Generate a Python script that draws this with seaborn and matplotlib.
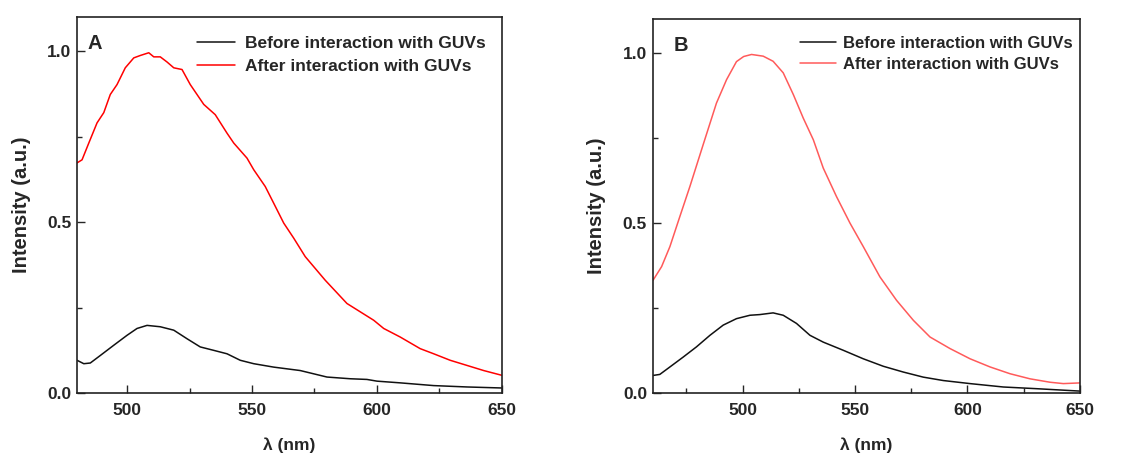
import numpy as np
import pandas as pd
import matplotlib
matplotlib.use("Agg")
import matplotlib.pyplot as plt
from matplotlib.ticker import MultipleLocator, FormatStrFormatter
import seaborn as sns

# ---------------- data ----------------
a_red_x = [480, 482, 484.7, 488, 490.7, 493.3, 496, 499.3, 502.7, 505.3, 508.7, 510.7, 513.3, 516,
           518.7, 522, 525.3, 530.7, 535.3, 540, 542.7, 548, 550.7, 555.3, 558.7, 562.7, 566.7,
           571.3, 579.3, 588, 598.7, 602.7, 609.3, 617.3, 622.7, 629.3, 636, 642.7, 650]
a_red_y = [0.673, 0.682, 0.731, 0.79, 0.82, 0.873, 0.902, 0.951, 0.98, 0.987, 0.995, 0.983, 0.983,
           0.968, 0.951, 0.946, 0.902, 0.844, 0.814, 0.76, 0.731, 0.687, 0.653, 0.604, 0.555, 0.497,
           0.453, 0.399, 0.33, 0.262, 0.213, 0.189, 0.164, 0.13, 0.115, 0.096, 0.081, 0.066, 0.052]
a_blk_x = [480, 482.7, 485.3, 489.3, 494.7, 500, 504, 508, 513.3, 518.7, 524, 529.3, 534.7, 540,
           545.3, 550.7, 558.7, 569.3, 580, 589.3, 596, 600, 609.3, 622.7, 636, 650]
a_blk_y = [0.096, 0.086, 0.088, 0.11, 0.14, 0.169, 0.189, 0.198, 0.194, 0.184, 0.159, 0.135, 0.125,
           0.115, 0.096, 0.086, 0.076, 0.066, 0.047, 0.042, 0.04, 0.035, 0.03, 0.022, 0.018, 0.015]

b_red_x = [460.2, 464, 467.7, 472.1, 476.6, 482.5, 488.4, 492.9, 497.3, 500.5, 504, 509.2, 513.6,
           518.1, 522.6, 527, 531.5, 535.9, 541.8, 547.8, 553.7, 561.1, 568.5, 576, 583.4, 592.3,
           601.2, 610.1, 619, 627.9, 636.8, 642.7, 650]
b_red_y = [0.332, 0.372, 0.431, 0.519, 0.608, 0.731, 0.853, 0.922, 0.975, 0.99, 0.996, 0.991,
           0.976, 0.942, 0.878, 0.809, 0.745, 0.662, 0.578, 0.5, 0.431, 0.342, 0.273, 0.214, 0.165,
           0.131, 0.101, 0.077, 0.057, 0.042, 0.032, 0.028, 0.03]
b_blk_x = [460.2, 463.2, 467.7, 473.6, 479.5, 485.5, 491.4, 497.3, 503.3, 507.7, 513.6, 518.1, 524,
           530, 535.9, 544.8, 553.7, 562.6, 571.5, 580.4, 589.3, 601.2, 616, 630.9, 650]
b_blk_y = [0.052, 0.055, 0.077, 0.106, 0.136, 0.17, 0.2, 0.219, 0.229, 0.231, 0.236, 0.229, 0.205,
           0.17, 0.15, 0.126, 0.101, 0.079, 0.062, 0.047, 0.037, 0.028, 0.018, 0.013, 0.006]

series_names = ["Before interaction with GUVs", "After interaction with GUVs"]
panel_labels = ["A", "B"]
x_label = "λ (nm)"
y_label = "Intensity (a.u.)"

# ---------------- style ----------------
sns.set_theme(style="ticks")
plt.rcParams["font.family"] = ["Liberation Sans", "DejaVu Sans"]
plt.rcParams["font.weight"] = "bold"

fig = plt.figure(figsize=(11.33, 4.55), dpi=100)
axA = fig.add_axes([0.068, 0.136, 0.375, 0.827])
axB = fig.add_axes([0.576, 0.136, 0.377, 0.822])

panels = [
    (axA, a_blk_x, a_blk_y, a_red_x, a_red_y, "#ff0000", (480, 650), (0.282, 0.950), 2.2, 0.55, 0.45, 0.024, 12.5),
    (axB, b_blk_x, b_blk_y, b_red_x, b_red_y, "#ff5a5a", (460, 650), (0.344, 0.955), 2.2, 0.4, 0.38, 0.049, 12.0),
]

for i, (ax, bx, by, rx, ry, rcol, xlim, lpos, hl, htp, lsp, px, lfs) in enumerate(panels):
    df = pd.concat([
        pd.DataFrame({"x": bx, "y": by, "s": series_names[0]}),
        pd.DataFrame({"x": rx, "y": ry, "s": series_names[1]}),
    ])
    sns.lineplot(data=df, x="x", y="y", hue="s", palette=["#111111", rcol],
                 linewidth=1.1, ax=ax, sort=True, estimator=None)
    ax.set_xlim(*xlim)
    ax.set_ylim(0, 1.10)
    ax.xaxis.set_major_locator(MultipleLocator(50))
    ax.xaxis.set_minor_locator(MultipleLocator(25))
    ax.yaxis.set_major_locator(MultipleLocator(0.5))
    ax.yaxis.set_minor_locator(MultipleLocator(0.25))
    ax.tick_params(axis="x", which="major", direction="in", length=6, width=1, labelsize=12.5,
                   top=False, pad=7)
    ax.tick_params(axis="y", which="major", direction="in", length=6, width=1, labelsize=12.5,
                   right=False, pad=4)
    ax.tick_params(which="minor", direction="in", length=3.5, width=1, top=False, right=False)
    for lab in ax.get_xticklabels() + ax.get_yticklabels():
        lab.set_fontweight("bold")
    ax.yaxis.set_major_formatter(FormatStrFormatter("%.1f"))
    for sp in ax.spines.values():
        sp.set_visible(True)
        sp.set_linewidth(1.2)
        sp.set_color("#222222")
    ax.set_xlabel(x_label, fontsize=12.5, fontweight="bold", labelpad=14)
    ax.set_ylabel(y_label, fontsize=14.5, fontweight="bold", labelpad=12)
    ax.text(px, 0.93, panel_labels[i], transform=ax.transAxes, fontsize=14.5,
            fontweight="bold", va="center", ha="left")
    ax.legend(loc="upper left", bbox_to_anchor=lpos, frameon=False, handlelength=hl,
              handletextpad=htp, borderaxespad=0, borderpad=0, labelspacing=lsp,
              prop={"weight": "bold", "size": lfs})

fig.savefig("out.png", dpi=100)
